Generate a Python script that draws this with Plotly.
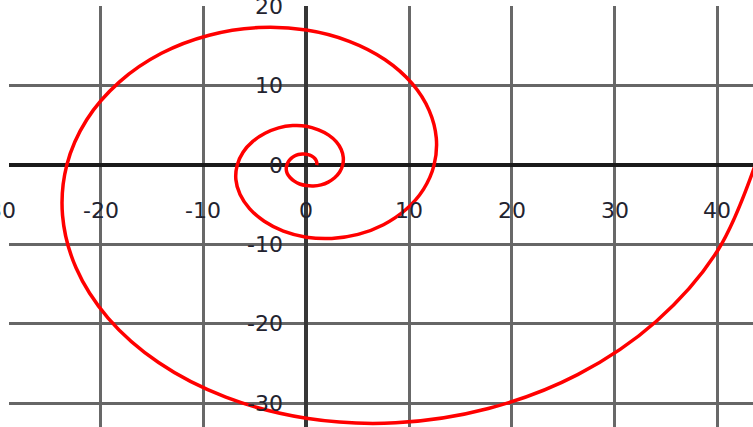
import plotly.graph_objects as go

# Spiral points (data units), inner end -> outer end
spiral_x = [1.01, 1.03, 0.97, 0.83, 0.62, 0.34, 0.00, -0.38, -0.77, -1.14, -1.47, -1.73,
            -1.89, -1.95, -1.85, -1.58, -1.17, -0.64, 0.00, 0.70, 1.44, 2.14, 2.76, 3.25,
            3.54, 3.60, 3.40, 2.93, 2.18, 1.19, 0.00, -1.32, -2.69, -4.01, -5.20, -6.15,
            -6.72, -6.85, -6.45, -5.52, -4.09, -2.23, 0.00, 2.48, 5.04, 7.51, 9.69, 11.40,
            12.43, 12.65, 11.95, 10.29, 7.67, 4.18, 0.00, -4.64, -9.45, -14.09, -18.17, -21.36,
            -23.30, -23.71, -22.40, -19.28, -14.37, -7.83, 0.00, 8.70, 17.71, 26.40, 34.06, 40.04,
            43.67]
spiral_y = [0.00, 0.28, 0.56, 0.83, 1.07, 1.27, 1.38, 1.40, 1.33, 1.14, 0.85, 0.46,
            0.00, -0.52, -1.05, -1.56, -2.02, -2.38, -2.58, -2.63, -2.49, -2.14, -1.60, -0.87,
            0.00, 0.97, 1.97, 2.93, 3.78, 4.43, 4.90, 4.98, 4.70, 4.01, 2.99, 1.63,
            0.00, -1.81, -3.68, -5.49, -7.08, -8.32, -9.08, -9.24, -8.73, -7.51, -5.60, -3.05,
            0.00, 3.39, 6.90, 10.29, 13.28, 15.60, 17.02, 17.33, 16.37, 14.09, 10.49, 5.72,
            0.00, -6.35, -12.94, -19.28, -24.88, -29.24, -31.90, -32.47, -30.67, -26.40, -19.67, -10.73,
            0.00]

x_tick_values = [-30, -20, -10, 0, 10, 20, 30, 40]
x_tick_labels = ["-30", "-20", "-10", "0", "10", "20", "30", "40"]
y_tick_values = [20, 10, 0, -10, -20, -30]
y_tick_labels = ["20", "10", "0", "-10", "-20", "-30"]

fig = go.Figure()
fig.add_trace(go.Scatter(
    x=spiral_x, y=spiral_y, mode="lines",
    line=dict(color="#ff0000", width=3.5, shape="spline", smoothing=1),
    showlegend=False, hoverinfo="skip",
))

label_font = dict(family="DejaVu Sans", size=22, color="#23232f")
annotations = []
# x-axis labels: text sits at the (data-space) tail (ax = tick value) of an
# invisible arrow whose head is the origin, so labels just outside the
# axis range (like -30) are still drawn.
for v, t in zip(x_tick_values, x_tick_labels):
    annotations.append(dict(
        x=0, y=0, xref="x", yref="y",
        showarrow=True, axref="x", ax=v, ayref="y", ay=0,
        arrowcolor="rgba(0,0,0,0)", arrowwidth=0.1, arrowhead=0,
        text=t, xanchor="center", yanchor="middle",
        yshift=-45, font=label_font,
    ))
for v, t in zip(y_tick_values, y_tick_labels):
    annotations.append(dict(
        x=0, y=v, xref="x", yref="y",
        text=t, showarrow=False, xanchor="right", yanchor="middle",
        xshift=-21, font=label_font,
    ))

fig.update_layout(
    width=753, height=427,
    margin=dict(l=9, r=0, t=6, b=0, pad=0),
    paper_bgcolor="white", plot_bgcolor="white",
    showlegend=False,
    annotations=annotations,
    xaxis=dict(
        range=[-28.92, 43.46], tick0=0, dtick=10, showticklabels=False, ticks="",
        showgrid=True, gridcolor="#686868", gridwidth=3,
        zeroline=True, zerolinecolor="#363636", zerolinewidth=4,
        showline=False, fixedrange=True,
    ),
    yaxis=dict(
        range=[-33.0, 20.05], tick0=0, dtick=10, showticklabels=False, ticks="",
        showgrid=True, gridcolor="#666666", gridwidth=3,
        zeroline=True, zerolinecolor="#1a1a1a", zerolinewidth=4,
        showline=False, fixedrange=True,
    ),
)

fig.write_html(
    "out.html",
    config={"displayModeBar": False},
    post_script="document.body.style.margin='0';document.body.style.overflow='hidden';",
)
